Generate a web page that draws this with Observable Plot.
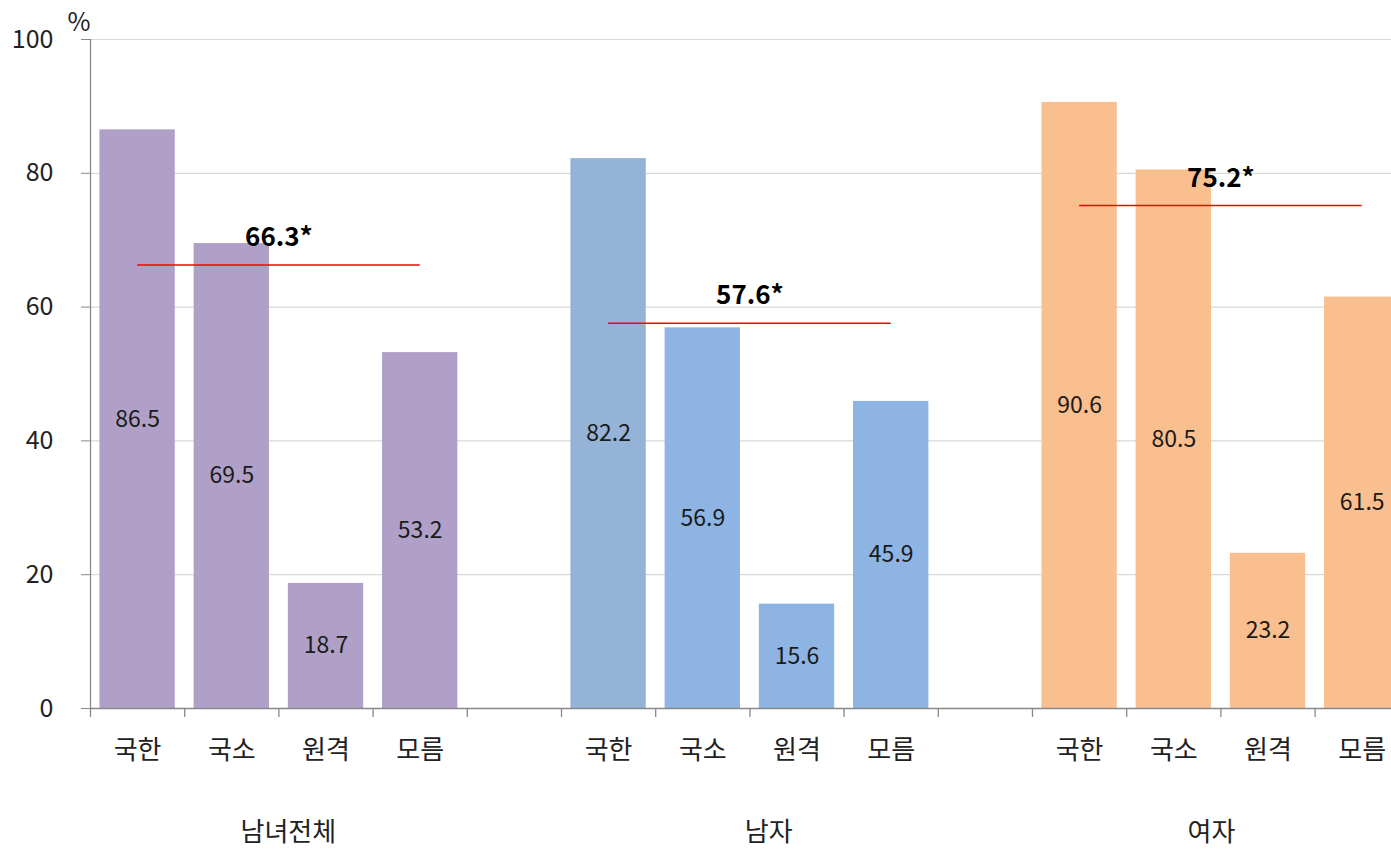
<!DOCTYPE html>
<html>
<head>
<meta charset="utf-8">
<script src="https://cdn.jsdelivr.net/npm/d3@7"></script>
<script src="https://cdn.jsdelivr.net/npm/@observablehq/plot@0.6"></script>
<style>
  html, body { margin: 0; padding: 0; background: #fff; overflow: hidden; }
  #chart svg { overflow: hidden; }
</style>
</head>
<body>
<div id="chart"></div>
<script>
// ---- data ----
const groups = ["남녀전체", "남자", "여자"];
const categories = ["국한", "국소", "원격", "모름"];
const valuesAll = [86.5, 69.5, 18.7, 53.2];
const valuesMale = [82.2, 56.9, 15.6, 45.9];
const valuesFemale = [90.6, 80.5, 23.2, 61.5];
const means = [66.3, 57.6, 75.2];
const meanLabels = ["66.3*", "57.6*", "75.2*"];
const yTicks = [0, 20, 40, 60, 80, 100];
const groupColors = [
  ["#B0A0C8", "#B0A0C8", "#B0A0C8", "#B0A0C8"],
  ["#95B3D7", "#8DB4E2", "#8DB4E2", "#8DB4E2"],
  ["#F9BF8F", "#F9BF8F", "#F9BF8F", "#F9BF8F"]
];
const groupValues = [valuesAll, valuesMale, valuesFemale];

// ---- build table: each group takes 4 slots + 1 gap slot ----
const slotsPerGroup = 5;
const bars = [];
groups.forEach((g, gi) => {
  categories.forEach((c, ci) => {
    const slot = gi * slotsPerGroup + ci;
    bars.push({group: g, cat: c, slot, value: groupValues[gi][ci], color: groupColors[gi][ci]});
  });
});
const meanRows = groups.map((g, gi) => ({
  group: g,
  x1: gi * slotsPerGroup + 0.5,
  x2: gi * slotsPerGroup + 3.5,
  xc: gi * slotsPerGroup + 2,
  value: means[gi],
  label: meanLabels[gi]
}));
const groupLabelPos = [2.1, 7.2, 11.9];
const nSlots = 14;
const boundaries = d3.range(nSlots + 1);

const font = "'Noto Sans CJK KR', 'Noto Sans', sans-serif";
const slotPx = 94.2;

const chart = Plot.plot({
  width: 1391,
  height: 849,
  marginTop: 39,
  marginBottom: 141,
  marginLeft: 90,
  marginRight: 0,
  style: {fontFamily: font, color: "#222", background: "#fff", overflow: "hidden"},
  x: {type: "linear", domain: [0, nSlots], range: [90, 90 + nSlots * slotPx], axis: null},
  y: {type: "linear", domain: [0, 100], axis: null},
  marks: [
    // gridlines
    Plot.ruleY(yTicks.filter(d => d > 0), {x1: 0, x2: nSlots, stroke: "#D9D9D9", strokeWidth: 1.2}),
    // bars
    Plot.rectY(bars, {x1: d => d.slot + 0.1, x2: d => d.slot + 0.9, y1: 0, y2: "value", fill: "color"}),
    // value labels inside bars
    Plot.text(bars, {x: d => d.slot + 0.5, y: d => d.value / 2, text: d => d.value.toFixed(1), fontSize: 23, fill: "#1a1a1a"}),
    // y axis line & x axis line
    Plot.ruleX([0], {y1: 0, y2: 100, stroke: "#888", strokeWidth: 1.3}),
    Plot.ruleY([0], {x1: 0, x2: nSlots, stroke: "#888", strokeWidth: 1.3}),
    // y axis ticks and labels
    Plot.axisY({ticks: yTicks, tickSize: 9, tickPadding: 28, fontSize: 25, stroke: "#888", fill: "#222", anchor: "left", label: null}),
    // x boundary ticks
    Plot.axisX({ticks: boundaries, tickSize: 9, tickFormat: () => "", stroke: "#888", strokeWidth: 1.3, anchor: "bottom", label: null}),
    // category labels
    Plot.text(bars, {x: d => d.slot + 0.5, y: 0, dy: 42, text: "cat", fontSize: 26, fill: "#222"}),
    // group labels
    Plot.text(groups, {x: (d, i) => groupLabelPos[i], y: 0, dy: 124, text: d => d, fontSize: 26, fill: "#222"}),
    // "%" unit
    Plot.text(["%"], {x: 0, y: 100, dx: 0, dy: -17, text: d => d, textAnchor: "end", fontSize: 25, fill: "#222"}),
    // mean lines
    Plot.ruleY(meanRows, {x1: "x1", x2: "x2", y: "value", stroke: "#FF0000", strokeWidth: 1.5}),
    Plot.text(meanRows, {x: "xc", y: "value", dy: -27, text: "label", fontSize: 26, fontWeight: "bold", fill: "#000"})
  ]
});
document.getElementById("chart").appendChild(chart);
</script>
</body>
</html>
